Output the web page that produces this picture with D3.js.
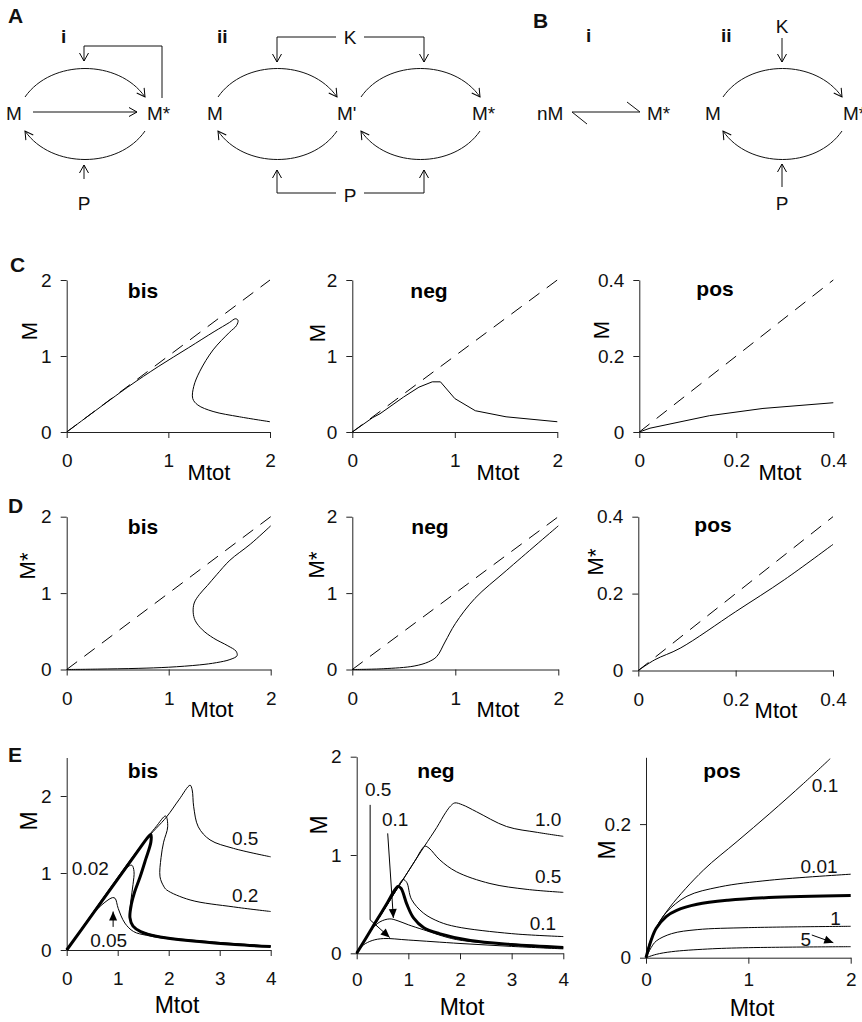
<!DOCTYPE html>
<html>
<head>
<meta charset="utf-8">
<script src="https://cdn.jsdelivr.net/npm/d3@7"></script>
<style>
  body { margin: 0; background: #fff; }
  text { font-family: "Liberation Sans", Arial, Helvetica, sans-serif; }
</style>
</head>
<body>
<script>
// ---------- tick values ----------
var ticks2 = [0, 1, 2];
var ticks04 = [0, 0.2, 0.4];
var ticks4 = [0, 1, 2, 3, 4];
var ticksEposY = [0, 0.2];

// identity line Mtot = M
var diag2 = [[0, 0], [2, 2]];
var diag04 = [[0, 0], [0.4, 0.4]];

// ---------- C: M vs Mtot ----------
var cBis = [[0,0],[0.6,0.59],[0.9,0.86],[1.2,1.11],[1.45,1.32],[1.6,1.44],[1.66,1.49],[1.685,1.47],[1.67,1.4],[1.6,1.31],[1.44,1.08],[1.31,0.8],[1.25,0.6],[1.24,0.44],[1.29,0.355],[1.44,0.27],[1.7,0.2],[2.0,0.135]];
var cNeg = [[0,0],[0.2,0.19],[0.27,0.24],[0.5,0.46],[0.65,0.59],[0.78,0.66],[0.86,0.66],[1.0,0.44],[1.2,0.28],[1.5,0.2],[2.0,0.135]];
var cPos = [[0,0],[0.022,0.01],[0.145,0.043],[0.255,0.062],[0.4,0.077]];

// ---------- D: M* vs Mtot ----------
var dBis = [[0,0],[0.3,0.005],[0.7,0.015],[1.0,0.03],[1.3,0.06],[1.47,0.09],[1.6,0.13],[1.67,0.18],[1.66,0.24],[1.58,0.31],[1.44,0.41],[1.33,0.52],[1.26,0.64],[1.24,0.75],[1.25,0.87],[1.3,0.98],[1.38,1.1],[1.47,1.24],[1.6,1.43],[1.8,1.64],[2.0,1.88]];
var dNeg = [[0,0],[0.3,0.01],[0.6,0.045],[0.74,0.1],[0.82,0.17],[0.9,0.36],[1.0,0.6],[1.19,0.93],[1.5,1.3],[2.0,1.88]];
var dPos = [[0,0],[0.034,0.028],[0.086,0.058],[0.2,0.153],[0.3,0.236],[0.4,0.328]];

// ---------- E: parameter scans ----------
var eBisRef = [[0,0],[0.5,0.46],[1.0,0.92],[1.4,1.29],[1.6,1.47],[1.65,1.5],[1.65,1.4],[1.55,1.18],[1.44,0.95],[1.33,0.75],[1.27,0.6],[1.24,0.42],[1.3,0.31],[1.45,0.24],[1.83,0.17],[2.6,0.11],[3.3,0.07],[4,0.045]];
var eBis05 = [[0,0],[1.5,1.39],[1.96,1.73],[2.2,1.95],[2.42,2.14],[2.46,2.08],[2.49,1.86],[2.58,1.6],[2.81,1.43],[3.27,1.32],[4,1.21]];
var eBis02 = [[0,0],[1.5,1.39],[1.75,1.6],[1.94,1.74],[1.98,1.6],[1.9,1.4],[1.85,1.2],[1.83,0.95],[1.9,0.83],[1.96,0.78],[2.42,0.65],[3.27,0.56],[4,0.5]];
var eBis002 = [[0,0],[1.1,1.0],[1.22,1.09],[1.28,1.1],[1.32,1.02],[1.3,0.85],[1.26,0.65],[1.24,0.45],[1.28,0.33],[1.4,0.26],[1.8,0.18],[2.6,0.12],[4,0.05]];
var eBis005 = [[0,0],[0.5,0.46],[0.75,0.62],[0.9,0.68],[0.95,0.67],[1.01,0.54],[1.14,0.35],[1.31,0.24],[1.57,0.19],[2.2,0.13],[4,0.05]];

var eNegRef = [[0,0],[0.3,0.26],[0.6,0.52],[0.72,0.63],[0.8,0.68],[0.86,0.66],[0.97,0.5],[1.1,0.36],[1.3,0.26],[1.6,0.2],[2.2,0.13],[3,0.09],[4,0.06]];
var eNeg10 = [[0,0],[0.8,0.67],[1.3,1.08],[1.55,1.28],[1.72,1.43],[1.82,1.5],[1.9,1.53],[2.05,1.51],[2.32,1.44],[2.9,1.29],[3.5,1.23],[4,1.19]];
var eNeg05 = [[0,0],[0.8,0.67],[1.15,0.96],[1.25,1.05],[1.32,1.09],[1.4,1.07],[1.61,0.95],[1.93,0.83],[2.58,0.71],[3.3,0.65],[4,0.62]];
var eNeg01 = [[0,0],[0.7,0.59],[0.82,0.7],[0.9,0.75],[0.97,0.72],[1.06,0.55],[1.29,0.41],[1.6,0.32],[1.93,0.27],[3,0.2],[4,0.17]];
var eNegArr01 = [[0,0],[0.15,0.13],[0.3,0.25],[0.45,0.32],[0.64,0.35],[0.8,0.33],[1.0,0.29],[1.29,0.24],[1.93,0.14],[3,0.09],[4,0.06]];
var eNegArr05 = [[0,0],[0.05,0.04],[0.13,0.085],[0.3,0.13],[0.52,0.15],[1,0.135],[2,0.1],[3,0.07],[4,0.045]];

var ePos01 = [[0,0],[0.03,0.02],[0.1,0.045],[0.235,0.076],[0.56,0.131],[0.89,0.174],[1.21,0.216],[1.54,0.261],[1.8,0.298]];
var ePos001 = [[0,0],[0.05,0.025],[0.1,0.045],[0.2,0.068],[0.4,0.092],[0.72,0.106],[1.21,0.116],[2,0.125]];
var ePosRef = [[0,0],[0.05,0.026],[0.1,0.044],[0.2,0.062],[0.3,0.071],[0.5,0.08],[0.8,0.086],[1.2,0.09],[2,0.093]];
var ePos1 = [[0,0],[0.05,0.015],[0.1,0.025],[0.25,0.036],[0.5,0.042],[1,0.045],[2,0.047]];
var ePos5 = [[0,0],[0.1,0.005],[0.25,0.009],[0.6,0.013],[1,0.015],[2,0.0165]];

// ---------- svg ----------
var svg = d3.select("body").append("svg")
  .attr("width", 862)
  .attr("height", 1022);

svg.append("rect").attr("width", 862).attr("height", 1022).attr("fill", "#fff");

var defs = svg.append("defs");
defs.append("marker")
  .attr("id", "open")
  .attr("viewBox", "-10 -6 12 12")
  .attr("markerWidth", 12).attr("markerHeight", 12)
  .attr("markerUnits", "userSpaceOnUse")
  .attr("orient", "auto")
  .append("path")
  .attr("d", "M-8,-4.5L0,0L-8,4.5")
  .attr("fill", "none").attr("stroke", "#000").attr("stroke-width", 1);
defs.append("marker")
  .attr("id", "solid")
  .attr("viewBox", "-10 -6 12 12")
  .attr("markerWidth", 12).attr("markerHeight", 12)
  .attr("markerUnits", "userSpaceOnUse")
  .attr("orient", "auto")
  .append("path")
  .attr("d", "M-9,-4L0,0L-9,4Z")
  .attr("fill", "#000");

function label(x, y, t, opts) {
  opts = opts || {};
  return svg.append("text")
    .attr("x", x).attr("y", y)
    .attr("font-size", opts.size || 19)
    .attr("font-weight", opts.bold ? "bold" : null)
    .attr("text-anchor", opts.anchor || "start")
    .attr("fill", "#111")
    .text(t);
}

// ---------- schematics A and B ----------
// cubic arc between two points bulging to yMid
function arcPath(x1, y1, x2, y2, yMid) {
  var k = (yMid - y1) * 4 / 3;
  var dx = (x2 - x1) * 0.22;
  return "M" + x1 + "," + y1 + "C" + (x1 + dx) + "," + (y1 + k) + " " + (x2 - dx) + "," + (y2 + k) + " " + x2 + "," + y2;
}
function wire(d, head) {
  svg.append("path").attr("d", d)
    .attr("fill", "none").attr("stroke", "#111").attr("stroke-width", 1)
    .attr("marker-end", head ? "url(#" + head + ")" : null);
}
// a phosphorylation cycle: forward arc on top, backward arc below
function cycle(xl, xr) {
  wire(arcPath(xl, 97, xr, 97, 68.5), "open");
  wire(arcPath(xr, 131, xl, 131, 159.5), "open");
}

label(8, 23, "A", {bold: true, size: 21});
label(61, 43, "i", {bold: true, size: 19});
label(6, 120, "M");
label(147, 120, "M*");
cycle(25, 145);
wire("M33,112H137", "open");
wire("M162,98V46H84V61", "open");
wire("M84,179V165", "open");
label(84, 210, "P", {anchor: "middle"});

label(217, 43, "ii", {bold: true, size: 19});
label(207, 120, "M");
label(337, 120, "M'");
label(472, 120, "M*");
cycle(218, 337);
cycle(361, 480);
label(350, 44, "K", {anchor: "middle"});
wire("M336,37H277V62", "open");
wire("M364,37H424V62", "open");
label(350, 202, "P", {anchor: "middle"});
wire("M336,193H277V170", "open");
wire("M364,193H424V170", "open");

label(533, 28, "B", {bold: true, size: 21});
label(586, 42, "i", {bold: true, size: 19});
label(721, 42, "ii", {bold: true, size: 19});
label(537, 120, "nM");
label(647, 120, "M*");
wire("M587,124L572,112H640L627,102", null);
label(705, 120, "M");
// the right-hand node runs off the figure edge, as in the source
label(843, 120, "M*");
cycle(723, 842);
label(782, 33, "K", {anchor: "middle"});
wire("M782,38V62", "open");
wire("M782,187V164", "open");
label(782, 210, "P", {anchor: "middle"});

// ---------- plot panels ----------
function styleAxis(g, size) {
  g.attr("font-size", size).attr("font-family", "'Liberation Sans', Arial, sans-serif")
    .attr("color", "#222");
  g.selectAll("text").attr("fill", "#111");
}

function drawPanel(p) {
  var x = d3.scaleLinear().domain([0, p.xMax]).range([p.left, p.right]);
  var y = d3.scaleLinear().domain([0, p.yMax]).range([p.bottom, p.top]);
  var g = svg.append("g");
  var fs = p.tickSize || 19;

  g.append("g")
    .attr("transform", "translate(0," + p.bottom + ")")
    .call(d3.axisBottom(x).tickValues(p.xTicks).tickSize(6).tickPadding(p.xPad || 16).tickSizeOuter(0).tickFormat(String))
    .call(styleAxis, fs);
  g.append("g")
    .attr("transform", "translate(" + p.left + ",0)")
    .call(d3.axisLeft(y).tickValues(p.yTicks).tickSize(6).tickPadding(9).tickSizeOuter(0).tickFormat(String))
    .call(styleAxis, fs);

  var smooth = d3.line().x(d => x(d[0])).y(d => y(d[1])).curve(d3.curveCatmullRom.alpha(0.5));
  var straight = d3.line().x(d => x(d[0])).y(d => y(d[1]));

  p.curves.forEach(function(c) {
    g.append("path")
      .attr("d", (c.linear ? straight : smooth)(c.data))
      .attr("fill", "none")
      .attr("stroke", "#000")
      .attr("stroke-width", c.w || 1)
      .attr("stroke-linejoin", "round")
      .attr("stroke-dasharray", c.dash || null);
  });

  (p.notes || []).forEach(function(n) {
    g.append("text").attr("x", x(n.x)).attr("y", y(n.y))
      .attr("font-size", fs).attr("fill", "#111").text(n.t);
  });
  (p.arrows || []).forEach(function(a) {
    g.append("path")
      .attr("d", straight(a))
      .attr("fill", "none").attr("stroke", "#000").attr("stroke-width", 1)
      .attr("marker-end", "url(#solid)");
  });

  g.append("text").attr("x", p.title[0]).attr("y", p.title[1])
    .attr("text-anchor", "middle").attr("font-weight", "bold").attr("font-size", 21)
    .text(p.name);
  g.append("text")
    .attr("transform", "translate(" + p.yLab[0] + "," + p.yLab[1] + ") rotate(-90)")
    .attr("text-anchor", "middle").attr("dy", "0.36em").attr("font-size", p.labSize || 22)
    .text(p.yName);
  g.append("text").attr("x", p.xLab[0]).attr("y", p.xLab[1])
    .attr("text-anchor", "middle").attr("font-size", p.labSize || 22)
    .text("Mtot");
}

var dashed = "13,9";

label(10, 272, "C", {bold: true, size: 21});
drawPanel({name: "bis", yName: "M", left: 66.7, right: 270, bottom: 432, top: 280, xMax: 2, yMax: 2,
  xTicks: ticks2, yTicks: ticks2, title: [143, 298], yLab: [29, 331], xLab: [209, 480],
  curves: [{data: diag2, dash: dashed, linear: true}, {data: cBis}]});
drawPanel({name: "neg", yName: "M", left: 352.3, right: 557.3, bottom: 432, top: 280, xMax: 2, yMax: 2,
  xTicks: ticks2, yTicks: ticks2, title: [429, 298], yLab: [317, 333], xLab: [498, 480],
  curves: [{data: diag2, dash: dashed, linear: true}, {data: cNeg, linear: true}]});
drawPanel({name: "pos", yName: "M", left: 639.3, right: 833.3, bottom: 432, top: 280, xMax: 0.4, yMax: 0.4,
  xTicks: ticks04, yTicks: ticks04, title: [715, 296], yLab: [601, 330], xLab: [780, 480],
  curves: [{data: diag04, dash: dashed, linear: true}, {data: cPos, linear: true}]});

label(8, 513, "D", {bold: true, size: 21});
drawPanel({name: "bis", yName: "M*", left: 66.7, right: 270.7, bottom: 669.5, top: 516.7, xMax: 2, yMax: 2,
  xTicks: ticks2, yTicks: ticks2, title: [143, 534], yLab: [27, 566], xLab: [212, 717],
  curves: [{data: diag2, dash: dashed, linear: true}, {data: dBis}]});
drawPanel({name: "neg", yName: "M*", left: 352.3, right: 558.3, bottom: 669.5, top: 516.7, xMax: 2, yMax: 2,
  xTicks: ticks2, yTicks: ticks2, title: [430, 534], yLab: [316, 565], xLab: [498, 717],
  curves: [{data: diag2, dash: dashed, linear: true}, {data: dNeg}]});
drawPanel({name: "pos", yName: "M*", left: 638.3, right: 833, bottom: 670.5, top: 516.7, xMax: 0.4, yMax: 0.4,
  xTicks: ticks04, yTicks: ticks04, title: [713, 532], yLab: [595, 562], xLab: [776, 718],
  curves: [{data: diag04, dash: dashed, linear: true}, {data: dPos}]});

label(8, 762, "E", {bold: true, size: 21});
drawPanel({name: "bis", yName: "M", left: 66.7, right: 270.7, bottom: 950, top: 757.5, xMax: 4, yMax: 2.5,
  xTicks: ticks4, yTicks: ticks2, title: [143, 778], yLab: [29, 821], xLab: [177, 1013], labSize: 23,
  curves: [{data: eBis05}, {data: eBis02}, {data: eBis002}, {data: eBis005}, {data: eBisRef, w: 3}],
  notes: [{t: "0.5", x: 3.24, y: 1.36}, {t: "0.2", x: 3.24, y: 0.62}, {t: "0.02", x: 0.1, y: 0.97}, {t: "0.05", x: 0.46, y: 0.04}],
  arrows: [[[0.91, 0.3], [0.91, 0.5]]]});
drawPanel({name: "neg", yName: "M", left: 356.7, right: 563.3, bottom: 953.3, top: 756.7, xMax: 4, yMax: 2,
  xTicks: ticks4, yTicks: ticks2, title: [436, 778], yLab: [319, 825], xLab: [462, 1015], labSize: 23, xPad: 13,
  curves: [{data: eNeg10}, {data: eNeg05}, {data: eNeg01}, {data: eNegArr01}, {data: eNegArr05}, {data: eNegRef, w: 3}],
  notes: [{t: "0.5", x: 0.16, y: 1.6}, {t: "0.1", x: 0.49, y: 1.29}, {t: "1.0", x: 3.45, y: 1.29}, {t: "0.5", x: 3.45, y: 0.72}, {t: "0.1", x: 3.35, y: 0.24}],
  arrows: [[[0.26, 1.51], [0.26, 0.34], [0.64, 0.16]], [[0.6, 1.22], [0.71, 0.36]]]});
drawPanel({name: "pos", yName: "M", left: 646, right: 850.7, bottom: 957.7, top: 757.3, xMax: 2, yMax: 0.3,
  xTicks: ticks2, yTicks: ticksEposY, title: [722, 778], yLab: [607, 850], xLab: [752, 1016], labSize: 23, xPad: 9,
  curves: [{data: ePos01}, {data: ePos001}, {data: ePos1}, {data: ePos5}, {data: ePosRef, w: 3}],
  notes: [{t: "0.1", x: 1.62, y: 0.248}, {t: "0.01", x: 1.51, y: 0.127}, {t: "1", x: 1.8, y: 0.049}, {t: "5", x: 1.51, y: 0.0175}],
  arrows: [[[1.62, 0.034], [1.83, 0.0225]]]});
</script>
</body>
</html>
